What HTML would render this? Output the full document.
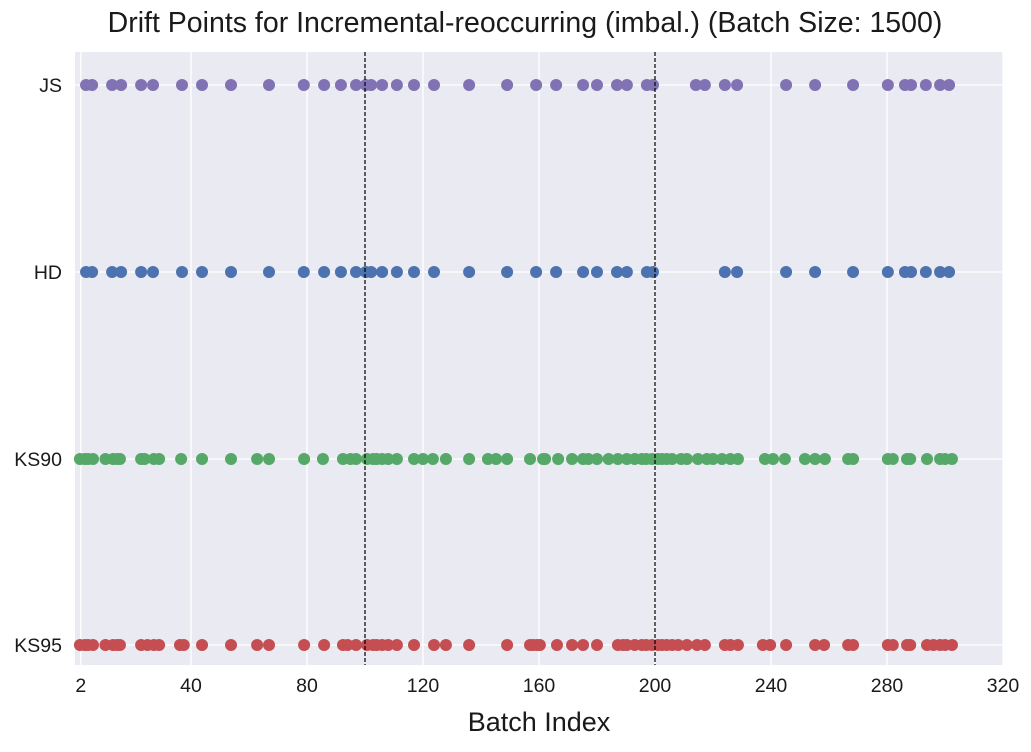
<!DOCTYPE html>
<html><head><meta charset="utf-8"><style>
body{margin:0;background:#fff;}
svg text{font-family:"Liberation Sans",sans-serif;fill:#1a1a1a;}
</style></head><body>
<svg id="chart" width="1031" height="747">
<text x="525" y="32" text-anchor="middle" font-size="28.5">Drift Points for Incremental-reoccurring (imbal.) (Batch Size: 1500)</text>
<rect x="75" y="52" width="928" height="613" fill="#eaeaf2"/>
<g id="grid"></g><g id="marks"></g><g id="axes"></g>
<text x="539" y="731" text-anchor="middle" font-size="27">Batch Index</text>
</svg>
<script>
const categories = ["JS","HD","KS90","KS95"];
const colors = ["#8172b3","#4c72b0","#55a868","#c44e52"];
const xTicks = [2,40,80,120,160,200,240,280,320];
const driftLines = [100,200];
const jsPoints = [3.8,5.9,12.8,15.9,22.8,26.9,36.9,43.8,53.8,66.9,78.9,85.9,91.7,96.9,100.3,102.1,105.9,111.0,116.9,123.8,135.9,149.0,159.0,165.9,175.2,180.0,186.9,190.3,197.2,199.3,214.1,217.2,224.1,228.3,245.2,255.2,268.3,280.3,286.2,288.3,293.4,298.3,301.4];
const hdPoints = [3.8,5.9,12.8,15.9,22.8,26.9,36.9,43.8,53.8,66.9,78.9,85.9,91.7,96.9,100.3,102.1,105.9,111.0,116.9,123.8,135.9,149.0,159.0,165.9,175.2,180.0,186.9,190.3,197.2,199.3,224.1,228.3,245.2,255.2,268.3,280.3,286.2,288.3,293.4,298.3,301.4];
const ks90Points = [1.7,3.4,4.5,6.2,10.5,13.1,14.5,15.5,22.8,24,27.2,29,36.6,43.8,53.8,62.8,66.9,79.0,85.5,92.4,95,96.9,100.7,102.8,104,105.9,108,111.0,116.9,120,123.4,127.9,135.9,142.4,145.2,149.0,156.9,161.4,162.1,166.6,171.4,175.2,177,180.0,184,187.2,190.3,193,195.5,197,199.0,201,202.4,204,205.9,209,211.0,214.8,217.9,220,223.1,226,228.6,237.9,240.7,244.8,251.7,255.2,258.6,266.6,268.3,280.3,282,286.9,288,293.8,298.3,300,302.4];
const ks95Points = [1.7,3.4,4.5,6.2,10.5,13.1,14.5,15.5,22.8,25,27.2,29,36.2,37.5,43.8,53.8,62.8,66.9,79.0,85.9,92.4,94,96.9,100.7,102.8,104,105.9,108,111.0,116.9,123.8,127.9,135.9,149.0,156.9,158,159.3,160.3,166.2,171.4,175.2,180.0,187.2,189,190.3,193,195.5,197,199.0,201,202.4,204,205.9,208,211.0,214.5,217.2,224.1,226,228.6,237.2,239.7,245.2,255.2,258.3,266.6,268.3,280.3,282,286.9,288,293.8,296,298.3,300,302.4];
const series = [jsPoints,hdPoints,ks90Points,ks95Points];
const NS="http://www.w3.org/2000/svg";
const X0=75,X1=1003,XMIN=0,XMAX=320;
const xs=v=>X0+(v-XMIN)/(XMAX-XMIN)*(X1-X0);
const rowY=[85,272,459,645];
const ys=i=>rowY[i];
function mk(tag,attrs,parent){const e=document.createElementNS(NS,tag);for(const k in attrs)e.setAttribute(k,attrs[k]);parent.appendChild(e);return e;}
const grid=document.getElementById('grid'),marks=document.getElementById('marks'),axes=document.getElementById('axes');
xTicks.forEach(t=>{
  const l=mk('line',{x1:xs(t),x2:xs(t),y1:52,y2:665,stroke:'#fff','stroke-width':1.3},grid);
  
  
  const tx=mk('text',{x:xs(t),y:692,'text-anchor':'middle','font-size':19.5},axes);
  tx.textContent=t;
  
  
});
categories.forEach((c,i)=>{
  const l=mk('line',{x1:X0,x2:X1,y1:ys(i),y2:ys(i),stroke:'#fff','stroke-width':1.3},grid);
  
  
  const tx=mk('text',{x:62,y:ys(i)+7,'text-anchor':'end','font-size':19.5},axes);
  tx.textContent=c;
  
  
});
series.forEach((arr,i)=>{
  arr.forEach(v=>{
    const d=mk('circle',{cx:xs(v),cy:ys(i),r:6,fill:colors[i]},marks);
    
    
  });
});
driftLines.forEach(v=>{
  const l=mk('line',{x1:xs(v),x2:xs(v),y1:52,y2:665,stroke:'#000','stroke-width':1.2,'stroke-dasharray':'4,2'},marks);
  
  
});
</script>
</body></html>
